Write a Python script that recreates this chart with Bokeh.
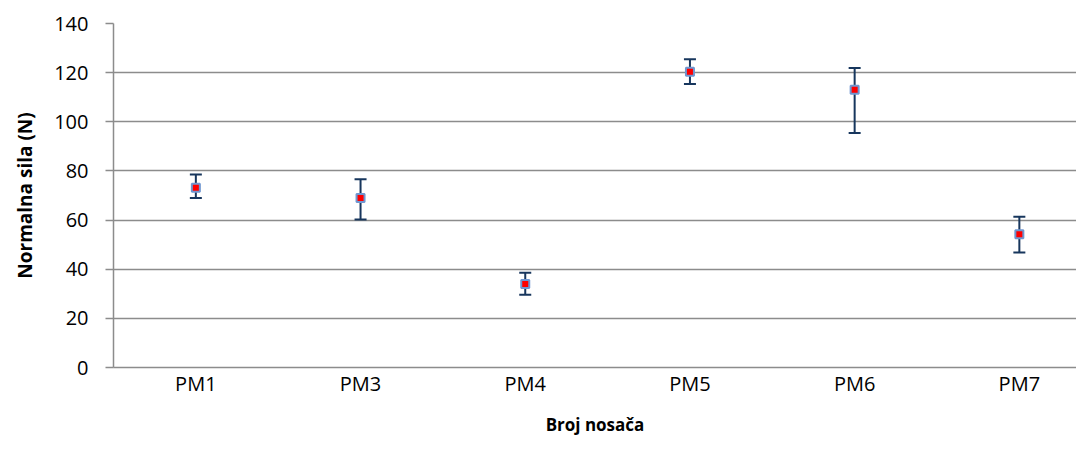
from bokeh.plotting import figure
from bokeh.models import ColumnDataSource, Range1d, Whisker, TeeHead, FixedTicker
from bokeh.embed import file_html
from bokeh.resources import INLINE

categories = ["PM1", "PM3", "PM4", "PM5", "PM6", "PM7"]
mean_force = [73.2, 69.0, 34.0, 120.4, 113.0, 54.2]
upper_force = [78.5, 76.6, 38.6, 125.4, 121.9, 61.4]
lower_force = [69.0, 60.2, 29.6, 115.4, 95.4, 46.8]

y_ticks = [0, 20, 40, 60, 80, 100, 120, 140]

FONT = "Open Sans"
GRID = "#8C8C8C"
ERR = "#17365D"

x_pos = list(range(len(categories)))
src = ColumnDataSource(dict(x=x_pos, y=mean_force, upper=upper_force, lower=lower_force))

p = figure(width=1076, height=447, x_range=Range1d(-0.5, 5.347), y_range=Range1d(0, 140),
           output_backend="svg", toolbar_location=None,
           min_border_left=113, min_border_right=0, min_border_top=23, min_border_bottom=80)
p.outline_line_color = None
p.background_fill_color = "white"
p.border_fill_color = "white"

p.xgrid.grid_line_color = None
p.ygrid.grid_line_color = GRID
p.ygrid.grid_line_width = 1.5

p.yaxis.ticker = FixedTicker(ticks=y_ticks)
p.yaxis.minor_tick_line_color = None
p.yaxis.major_tick_in = 0
p.yaxis.major_tick_out = 8
p.yaxis.axis_line_color = GRID
p.yaxis.axis_line_width = 1.5
p.yaxis.major_tick_line_color = GRID
p.yaxis.major_tick_line_width = 1.5
p.yaxis.major_label_standoff = 17
p.yaxis.major_label_text_font = FONT
p.yaxis.major_label_text_font_size = "20px"
p.yaxis.major_label_text_color = "black"
p.yaxis.axis_label = "Normalna sila (N)"
p.yaxis.axis_label_text_font = FONT
p.yaxis.axis_label_text_font_size = "19px"
p.yaxis.axis_label_text_font_style = "bold"
p.yaxis.axis_label_text_color = "black"
p.yaxis.axis_label_standoff = 13

p.xaxis.ticker = FixedTicker(ticks=x_pos)
p.xaxis.major_label_overrides = {i: c for i, c in zip(x_pos, categories)}
p.xaxis.axis_line_color = GRID
p.xaxis.axis_line_width = 1.5
p.xaxis.major_tick_line_color = None
p.xaxis.minor_tick_line_color = None
p.xaxis.major_tick_out = 0
p.xaxis.major_tick_in = 0
p.xaxis.major_label_standoff = 2
p.xaxis.major_label_text_font = FONT
p.xaxis.major_label_text_font_size = "20px"
p.xaxis.major_label_text_color = "black"
p.xaxis.axis_label = "Broj nosača"
p.xaxis.axis_label_text_font = FONT
p.xaxis.axis_label_text_font_size = "17px"
p.xaxis.axis_label_text_font_style = "bold"
p.xaxis.axis_label_text_color = "black"
p.xaxis.axis_label_standoff = 13

whisk = Whisker(base="x", upper="upper", lower="lower", source=src,
                line_color=ERR, line_width=2,
                upper_head=TeeHead(size=12, line_color=ERR, line_width=2),
                lower_head=TeeHead(size=12, line_color=ERR, line_width=2))
p.add_layout(whisk)

p.scatter(x="x", y="y", source=src, marker="square", size=8,
          fill_color="#FF0000", line_color="#7096D0", line_width=2)

open("out.html", "w").write(file_html(p, INLINE))
